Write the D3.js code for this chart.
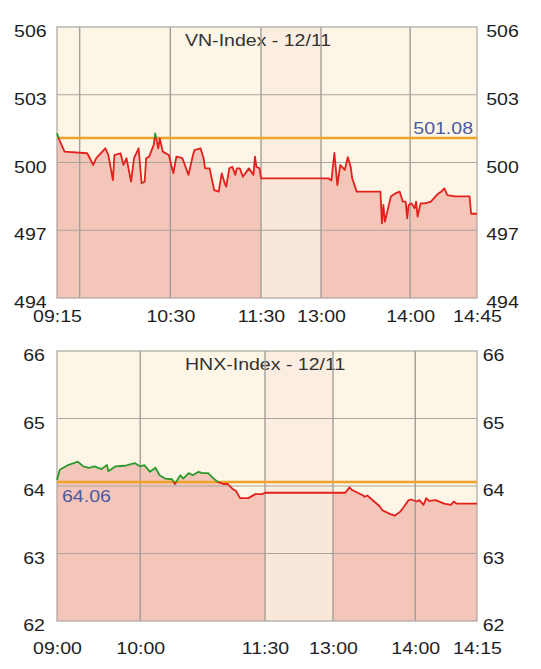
<!DOCTYPE html>
<html lang="en">
<head>
  <meta charset="UTF-8">
  <title>VN-Index / HNX-Index - 12/11</title>
  <script src="https://d3js.org/d3.v7.min.js"></script>
  <style>
    body { margin: 0; background: #fff; }
    svg { display: block; }
    text { font-family: "Liberation Sans", Arial, Helvetica, sans-serif; }
  </style>
</head>
<body>
  <script>
    // ---- VN-Index ----
    var vnTitle = "VN-Index - 12/11";
    var vnRef = 501.08;
    var vnSession = ["09:15", "11:30", "13:00", "14:45"];
    var vnYTicks = [494, 497, 500, 503, 506];
    var vnGridTimes = ["09:30", "10:30", "11:30", "13:00", "14:00"];
    var vnTickTimes = ["09:15", "10:30", "11:30", "13:00", "14:00", "14:45"];
    var vnTickLabels = ["09:15", "10:30", "11:30", "13:00", "14:00", "14:45"];
    var vnTime = ["09:15", "09:17", "09:20", "09:35", "09:39", "09:41", "09:47", "09:49", "09:52", "09:53",
      "09:57", "09:59", "10:01", "10:04", "10:06", "10:09", "10:11", "10:13", "10:14", "10:16",
      "10:19", "10:20", "10:22", "10:23", "10:25", "10:29", "10:32", "10:34", "10:38", "10:42",
      "10:45", "10:46", "10:50", "10:52", "10:53", "10:56", "10:59", "11:02", "11:04", "11:06",
      "11:07", "11:09", "11:11", "11:13", "11:14", "11:16", "11:18", "11:22", "11:25", "11:26",
      "11:27", "11:29", "11:30", "13:00", "13:05", "13:07", "13:09", "13:11", "13:13", "13:16",
      "13:18", "13:20", "13:21", "13:24", "13:40", "13:41", "13:42", "13:43", "13:47", "13:50",
      "13:53", "13:55", "13:57", "13:58", "13:59", "14:01", "14:03", "14:04", "14:05", "14:07",
      "14:10", "14:14", "14:17", "14:19", "14:21", "14:23", "14:25", "14:30", "14:40", "14:41", "14:45"];
    var vnValue = [501.29, 500.92, 500.48, 500.41, 499.89, 500.19, 500.63, 500.33, 499.22, 500.33,
      500.41, 499.89, 500.19, 499.15, 500.19, 500.63, 499.08, 499.15, 500.19, 500.26,
      500.78, 501.29, 500.63, 501.07, 500.48, 500.33, 499.52, 500.26, 500.19, 499.45,
      500.33, 500.55, 500.63, 500.19, 499.74, 499.74, 498.78, 498.71, 499.52, 499.08,
      498.93, 499.74, 499.81, 499.45, 499.74, 499.74, 499.37, 499.74, 499.45, 500.26,
      499.81, 499.74, 499.30, 499.30, 499.30, 499.20, 500.42, 499.00, 499.89, 499.67,
      500.24, 499.80, 499.30, 498.71, 498.71, 497.30, 498.12, 497.38, 498.49, 498.63,
      498.71, 498.27, 498.27, 497.53, 498.12, 498.19, 497.97, 498.27, 497.60, 498.19,
      498.19, 498.27, 498.49, 498.63, 498.71, 498.85, 498.56, 498.50, 498.50, 497.73, 497.73];

    // ---- HNX-Index ----
    var hnxTitle = "HNX-Index - 12/11";
    var hnxRef = 64.06;
    var hnxSession = ["09:00", "11:30", "13:00", "14:45"];
    var hnxYTicks = [62, 63, 64, 65, 66];
    var hnxGridTimes = ["10:00", "11:30", "13:00", "14:00"];
    var hnxTickTimes = ["09:00", "10:00", "11:30", "13:00", "14:00", "14:45"];
    var hnxTickLabels = ["09:00", "10:00", "11:30", "13:00", "14:00", "14:15"];
    var hnxTime = ["09:00", "09:02", "09:08", "09:15", "09:19", "09:23", "09:27", "09:32", "09:36", "09:37",
      "09:42", "09:49", "09:56", "10:00", "10:03", "10:07", "10:11", "10:14", "10:18", "10:23",
      "10:25", "10:29", "10:31", "10:35", "10:38", "10:42", "10:45", "10:49", "10:53", "10:56",
      "11:00", "11:03", "11:07", "11:09", "11:12", "11:18", "11:23", "11:28", "11:30", "13:00",
      "13:09", "13:12", "13:14", "13:18", "13:22", "13:23", "13:25", "13:30", "13:34", "13:36",
      "13:41", "13:45", "13:49", "13:51", "13:55", "13:57", "14:01", "14:03", "14:06", "14:08",
      "14:10", "14:15", "14:21", "14:26", "14:28", "14:30", "14:45"];
    var hnxValue = [64.09, 64.24, 64.31, 64.36, 64.29, 64.27, 64.29, 64.25, 64.31, 64.22,
      64.29, 64.30, 64.34, 64.29, 64.31, 64.21, 64.27, 64.16, 64.11, 64.10,
      64.03, 64.16, 64.11, 64.19, 64.16, 64.21, 64.19, 64.19, 64.11, 64.06,
      64.03, 64.03, 63.95, 63.93, 63.82, 63.82, 63.88, 63.88, 63.90, 63.90,
      63.90, 63.98, 63.94, 63.90, 63.86, 63.84, 63.86, 63.77, 63.70, 63.64,
      63.59, 63.56, 63.62, 63.67, 63.79, 63.80, 63.77, 63.79, 63.72, 63.82,
      63.78, 63.79, 63.74, 63.72, 63.77, 63.74, 63.74];

    var fontSize = 17, stretch = 1.15;

    var toMin = function (t) { var p = t.split(":"); return +p[0] * 60 + +p[1]; };

    var svg = d3.select("body").append("svg")
      .attr("width", 541)
      .attr("height", 669);
    var defs = svg.append("defs");

    var charts = [
      {
        id: "vn", title: vnTitle, ref: vnRef, session: vnSession, yTicks: vnYTicks,
        grid: vnGridTimes, ticks: vnTickTimes, labels: vnTickLabels, time: vnTime, value: vnValue,
        top: 27, bottom: 298, xs: [57, 261, 321, 477], xPad: 12, lPad: 9, rPad: 8, refSide: "right"
      },
      {
        id: "hnx", title: hnxTitle, ref: hnxRef, session: hnxSession, yTicks: hnxYTicks,
        grid: hnxGridTimes, ticks: hnxTickTimes, labels: hnxTickLabels, time: hnxTime, value: hnxValue,
        top: 351, bottom: 621, xs: [57, 265, 333, 477], xPad: 21, lPad: 10.5, rPad: 5, refSide: "left"
      }
    ];

    charts.forEach(buildChart);

    function stretchedText(g, x, y, str, anchor) {
      return g.append("text")
        .attr("transform", "translate(" + x + "," + y + ") scale(" + stretch + ",1)")
        .attr("text-anchor", anchor)
        .attr("font-size", fontSize)
        .text(str);
    }

    function buildChart(c) {
      var left = c.xs[0], right = c.xs[c.xs.length - 1];

      var x = d3.scaleLinear()
        .domain(c.session.map(toMin))
        .range(c.xs);

      var y = d3.scaleLinear()
        .domain(d3.extent(c.yTicks))
        .range([c.bottom, c.top]);

      var data = c.time.map(function (t, i) { return { t: toMin(t), v: c.value[i] }; });

      var g = svg.append("g");

      // plot background
      g.append("rect")
        .attr("x", left).attr("y", c.top)
        .attr("width", right - left).attr("height", c.bottom - c.top)
        .attr("fill", "#fdf6e7");

      var area = d3.area()
        .x(function (d) { return x(d.t); })
        .y0(c.bottom)
        .y1(function (d) { return y(d.v); });

      g.append("path")
        .datum(data)
        .attr("d", area)
        .attr("fill", "#f4c6ba");

      // lunch break band
      var bx0 = x(toMin(c.session[1])), bx1 = x(toMin(c.session[2]));
      g.append("rect")
        .attr("x", bx0).attr("y", c.top)
        .attr("width", bx1 - bx0).attr("height", c.bottom - c.top)
        .attr("fill", "#fbeee0");

      defs.append("clipPath").attr("id", c.id + "-band")
        .append("rect")
        .attr("x", bx0).attr("y", c.top)
        .attr("width", bx1 - bx0).attr("height", c.bottom - c.top);

      g.append("path")
        .datum(data)
        .attr("d", area)
        .attr("fill", "#f4c6ba")
        .attr("opacity", 0.18)
        .attr("clip-path", "url(#" + c.id + "-band)");

      // title
      stretchedText(g, left + 128, c.top + 18.5, c.title, "start")
        .attr("fill", "#333");

      // grid
      g.selectAll(".hgrid")
        .data(c.yTicks.slice(1, -1))
        .enter().append("line")
        .attr("x1", left).attr("x2", right)
        .attr("y1", y).attr("y2", y)
        .attr("stroke", "#aaa59e")
        .attr("stroke-width", 1.2);

      g.selectAll(".vgrid")
        .data(c.grid.map(toMin))
        .enter().append("line")
        .attr("x1", x).attr("x2", x)
        .attr("y1", c.top).attr("y2", c.bottom)
        .attr("stroke", "#a39e97")
        .attr("stroke-width", 1.4);

      g.append("rect")
        .attr("x", left).attr("y", c.top)
        .attr("width", right - left).attr("height", c.bottom - c.top)
        .attr("fill", "none")
        .attr("stroke", "#aaa59e")
        .attr("stroke-width", 1.2);

      // reference (previous close)
      var yr = y(c.ref);
      g.append("line")
        .attr("x1", left).attr("x2", right)
        .attr("y1", yr).attr("y2", yr)
        .attr("stroke", "#f0a22b")
        .attr("stroke-width", 2.5);

      defs.append("clipPath").attr("id", c.id + "-up")
        .append("rect")
        .attr("x", left - 2).attr("y", c.top - 5)
        .attr("width", right - left + 4).attr("height", yr - c.top + 5);

      defs.append("clipPath").attr("id", c.id + "-down")
        .append("rect")
        .attr("x", left - 2).attr("y", yr)
        .attr("width", right - left + 4).attr("height", c.bottom - yr + 5);

      var line = d3.line()
        .x(function (d) { return x(d.t); })
        .y(function (d) { return y(d.v); });

      g.append("path")
        .datum(data)
        .attr("d", line)
        .attr("fill", "none")
        .attr("stroke", "#e3201b")
        .attr("stroke-width", 1.8)
        .attr("stroke-linejoin", "round")
        .attr("clip-path", "url(#" + c.id + "-down)");

      g.append("path")
        .datum(data)
        .attr("d", line)
        .attr("fill", "none")
        .attr("stroke", "#2c9a2a")
        .attr("stroke-width", 1.8)
        .attr("stroke-linejoin", "round")
        .attr("clip-path", "url(#" + c.id + "-up)");

      // reference label
      if (c.refSide === "right") {
        stretchedText(g, right - 4, yr - 4, d3.format(".2f")(c.ref), "end").attr("fill", "#4b5aa0");
      } else {
        stretchedText(g, left + 5, yr + 20, d3.format(".2f")(c.ref), "start").attr("fill", "#4b5aa0");
      }

      // axes
      var styleAxis = function (a) {
        a.select(".domain").remove();
        a.attr("font-family", null).attr("font-size", fontSize).attr("color", "#1e1e1e");
        a.selectAll("text").attr("transform", "scale(" + stretch + ",1)");
      };

      g.append("g")
        .attr("transform", "translate(" + left + ",0)")
        .call(d3.axisLeft(y).tickValues(c.yTicks).tickFormat(d3.format("d")).tickSize(0).tickPadding(c.lPad))
        .call(styleAxis)
        .selectAll("text").attr("dy", "0.56em");

      g.append("g")
        .attr("transform", "translate(" + right + ",0)")
        .call(d3.axisRight(y).tickValues(c.yTicks).tickFormat(d3.format("d")).tickSize(0).tickPadding(c.rPad))
        .call(styleAxis)
        .selectAll("text").attr("dy", "0.56em");

      g.append("g")
        .attr("transform", "translate(0," + c.bottom + ")")
        .call(d3.axisBottom(x)
          .tickValues(c.ticks.map(toMin))
          .tickFormat(function (d, i) { return c.labels[i]; })
          .tickSize(0)
          .tickPadding(c.xPad))
        .call(styleAxis);
    }
  </script>
</body>
</html>
